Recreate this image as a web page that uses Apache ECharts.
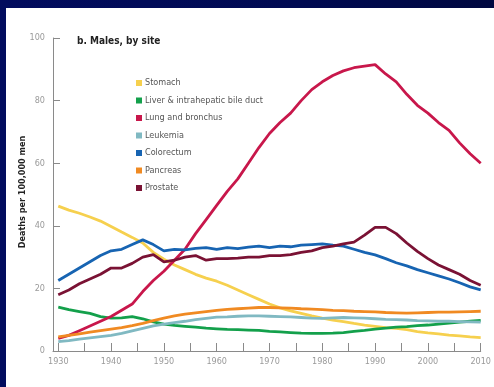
<!DOCTYPE html>
<html>
<head>
<meta charset="utf-8">
<script src="https://cdn.jsdelivr.net/npm/echarts@6/dist/echarts.min.js"></script>
<style>
html,body{margin:0;padding:0;width:494px;height:387px;overflow:hidden;}
body{background:linear-gradient(90deg,#020c5e 0%,#000a52 60%,#000840 100%);}
#panel{position:absolute;left:6px;top:8px;width:488px;height:379px;background:#fff;}
#chart{position:absolute;left:0;top:0;width:494px;height:387px;}
</style>
</head>
<body>
<div id="panel"></div>
<div id="chart"></div>
<script>
const years = [1930,1932,1934,1936,1938,1940,1942,1944,1946,1948,1950,1952,1954,1956,1958,1960,1962,1964,1966,1968,1970,1972,1974,1976,1978,1980,1982,1984,1986,1988,1990,1992,1994,1996,1998,2000,2002,2004,2006,2008,2010];
const stomach = [46.3,45,44,42.8,41.5,39.8,38,36.3,34.5,31.5,29.3,27.5,26,24.5,23.3,22.3,21,19.5,18,16.5,15,13.8,12.8,12,11.2,10.5,9.9,9.4,8.8,8.3,7.9,7.5,7.2,6.8,6.2,5.8,5.5,5.1,4.8,4.5,4.3];
const liver = [14,13.2,12.6,12,11,10.5,10.6,11,10.3,9.3,8.6,8.2,7.9,7.6,7.3,7.1,6.9,6.8,6.7,6.6,6.3,6.1,5.9,5.7,5.6,5.6,5.7,5.9,6.3,6.6,7,7.3,7.6,7.8,8.1,8.3,8.6,8.9,9.2,9.5,9.8];
const lung = [4,5,6.5,8,9.5,11,13,15,19,22.5,25.5,29,32.5,37.5,42,46.5,51,55,60,65,69.5,73,76,80,83.5,86,88,89.5,90.5,91,91.5,88.5,86,82,78.5,76,73,70.5,66.5,63,60];
const leukemia = [3,3.3,3.8,4.2,4.6,5,5.6,6.4,7.2,8,8.6,9.1,9.5,10,10.4,10.8,10.9,11.1,11.2,11.2,11.1,11,10.9,10.7,10.5,10.4,10.6,10.7,10.6,10.5,10.3,10.1,10,9.9,9.7,9.6,9.5,9.5,9.4,9.3,9.2];
const colorectum = [22.5,24.5,26.5,28.5,30.5,32,32.5,34,35.5,34,32,32.5,32.3,32.8,33,32.5,33,32.7,33.2,33.5,33,33.5,33.3,33.8,34,34.2,33.8,33.5,32.5,31.5,30.7,29.5,28.2,27.2,26,25,24,23,21.8,20.5,19.5];
const pancreas = [4.5,5,5.5,6,6.5,7,7.5,8.1,8.8,9.7,10.5,11.2,11.8,12.2,12.6,13,13.3,13.5,13.7,13.9,13.9,13.8,13.7,13.5,13.4,13.2,13,12.9,12.7,12.6,12.5,12.3,12.2,12.1,12.2,12.3,12.4,12.4,12.5,12.6,12.7];
const prostate = [18,19.5,21.5,23,24.5,26.5,26.5,28,30,30.8,28.5,29,30,30.5,29,29.5,29.5,29.7,30,30,30.5,30.5,30.8,31.5,32,33,33.5,34.2,34.8,37,39.5,39.5,37.5,34.5,31.8,29.5,27.5,26,24.5,22.5,21];
const seriesNames = ['Stomach','Liver & intrahepatic bile duct','Lung and bronchus','Leukemia','Colorectum','Pancreas','Prostate'];
const seriesValues = [stomach, liver, lung, leukemia, colorectum, pancreas, prostate];
const seriesColors = ['#f6d04e','#13a04b','#c8174b','#80b9c2','#1764b2','#f08a22','#7a1234'];
const yTicks = [0,20,40,60,80,100];
const xLabelYears = [1930,1940,1950,1960,1970,1980,1990,2000,2010];
const xTickYears = [1930,1935,1940,1945,1950,1955,1960,1965,1970,1975,1980,1985,1990,1995,2000,2005,2010];

const FONT = "'Liberation Sans Narrow','DejaVu Sans Condensed',sans-serif";
const chart = echarts.init(document.getElementById('chart'), null, {renderer:'canvas'});
chart.setOption({
  backgroundColor: 'transparent',
  animation: false,
  grid: {left: 53, right: 12, top: 38, bottom: 36},
  xAxis: {
    type: 'value', min: 1929, max: 2010,
    axisLine: {show: true, lineStyle: {color: '#8a8a8a', width: 1}},
    axisTick: {show: true, inside: true, length: 8, customValues: xTickYears, lineStyle: {color: '#8a8a8a'}},
    axisLabel: {customValues: xLabelYears, color: '#9a9a9a', fontSize: 9, fontFamily: FONT, margin: 6, formatter: v => String(v)},
    splitLine: {show: false}
  },
  yAxis: {
    type: 'value', min: 0, max: 100, interval: 20,
    axisLine: {show: true, lineStyle: {color: '#8a8a8a', width: 1}},
    axisTick: {show: true, inside: true, length: 7, lineStyle: {color: '#8a8a8a'}},
    axisLabel: {color: '#9a9a9a', fontSize: 9, fontFamily: FONT, margin: 8},
    splitLine: {show: false}
  },
  legend: {
    orient: 'vertical', left: 136, top: 78, padding: 0,
    itemWidth: 6, itemHeight: 6, itemGap: 7.5, icon: 'rect',
    textStyle: {fontSize: 9, color: '#555', fontFamily: FONT, lineHeight: 10, padding: [0,0,0,-2]},
    data: seriesNames
  },
  graphic: [
    {type: 'text', left: 77, top: 36, style: {text: 'b. Males, by site', font: "bold 10px " + FONT, fill: '#222'}},
    {type: 'text', x: 23, y: 192, rotation: Math.PI/2, style: {text: 'Deaths per 100,000 men', font: "bold 9px " + FONT, fill: '#222', align: 'center', verticalAlign: 'middle'}}
  ],
  series: seriesNames.map((n, i) => ({
    name: n, type: 'line', showSymbol: false, symbol: 'none',
    data: years.map((y, j) => [y, seriesValues[i][j]]),
    lineStyle: {width: 2.8, color: seriesColors[i]},
    itemStyle: {color: seriesColors[i]},
    z: 2
  }))
});
</script>
</body>
</html>
